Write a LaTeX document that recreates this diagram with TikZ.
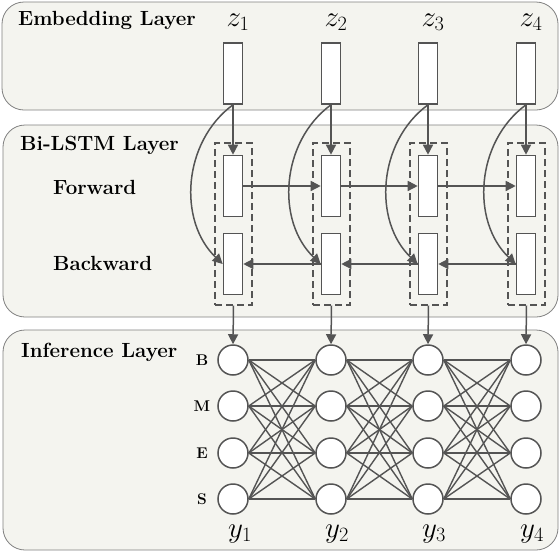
\RequirePackage{fix-cm}
\documentclass[tikz,border=0pt]{standalone}
\usepackage{amsmath}
\usetikzlibrary{arrows.meta}
\definecolor{panelfill}{RGB}{244,244,239}
\definecolor{panelline}{RGB}{128,128,128}
\definecolor{linegray}{RGB}{84,84,84}

\begin{document}
\begin{tikzpicture}[x=1pt,y=-1pt]
\tikzstyle{every node}+=[inner sep=0pt]
\tikzstyle{panel}=[draw=panelline, fill=panelfill, line width=0.8pt, rounded corners=22pt]
\tikzstyle{cell}=[draw=linegray, fill=white, line width=1.6pt, minimum width=19pt, minimum height=61pt]
\tikzstyle{frame}=[draw=linegray, line width=1.1pt, dash pattern=on 7pt off 4pt, minimum width=37pt, minimum height=162pt]
\tikzstyle{tag}=[circle, draw=linegray, fill=white, line width=1.5pt, minimum size=30pt]
\tikzstyle{arr}=[draw=linegray, line width=1.5pt, -{Triangle[length=10pt,width=10pt]}]
\tikzstyle{mesh}=[draw=linegray, line width=1.4pt]
\tikzstyle{title}=[font=\fontsize{20.5}{22}\selectfont\bfseries, anchor=west]
\tikzstyle{letter}=[font=\fontsize{15.5}{17}\selectfont\bfseries]
\tikzstyle{var}=[font=\fontsize{29}{32}\selectfont]
\useasboundingbox (0,0) rectangle (560,552);
% layers
\draw [panel] (2,2) rectangle (558,110);
\draw [panel] (3,125) rectangle (558,317);
\draw [panel] (3,330) rectangle (558,550);
\node [title] (embtitle) at (18,20) {Embedding Layer};
\node [title] (lstmtitle) at (20,145) {Bi-LSTM Layer};
\node [title] (inftitle) at (21,352) {Inference Layer};
\node [title] (fwtitle) at (53,187) {Forward};
\node [title] (bwtitle) at (53,263) {Backward};
% embedding
\node [var] (z1) at (238,22) {$z_1$};
\node [var] (z2) at (336,22) {$z_2$};
\node [var] (z3) at (433,22) {$z_3$};
\node [var] (z4) at (531,22) {$z_4$};
\node [cell] (e1) at (233,73.5) {};
\node [cell] (e2) at (331,73.5) {};
\node [cell] (e3) at (428,73.5) {};
\node [cell] (e4) at (526,73.5) {};
% bi-lstm
\node [frame] (d1) at (233.5,224) {};
\node [frame] (d2) at (331.5,224) {};
\node [frame] (d3) at (428.5,224) {};
\node [frame] (d4) at (526.5,224) {};
\node [cell] (f1) at (233,186) {};
\node [cell] (f2) at (331,186) {};
\node [cell] (f3) at (428,186) {};
\node [cell] (f4) at (526,186) {};
\node [cell] (b1) at (233,264) {};
\node [cell] (b2) at (331,264) {};
\node [cell] (b3) at (428,264) {};
\node [cell] (b4) at (526,264) {};
\draw [arr] (e1.south) -- (f1.north);
\draw [arr] (e2.south) -- (f2.north);
\draw [arr] (e3.south) -- (f3.north);
\draw [arr] (e4.south) -- (f4.north);
\draw [arr] (e1.south) to[bend right=50] (b1.west);
\draw [arr] (e2.south) to[bend right=50] (b2.west);
\draw [arr] (e3.south) to[bend right=50] (b3.west);
\draw [arr] (e4.south) to[bend right=50] (b4.west);
\draw [arr] (f1.east) -- (f2.west);
\draw [arr] (f2.east) -- (f3.west);
\draw [arr] (f3.east) -- (f4.west);
\draw [arr] (b4.west) -- (b3.east);
\draw [arr] (b3.west) -- (b2.east);
\draw [arr] (b2.west) -- (b1.east);
% inference
\node [letter] (lb) at (202,360) {B};
\node [letter] (lm) at (202,406) {M};
\node [letter] (le) at (202,453) {E};
\node [letter] (ls) at (202,499) {S};
\foreach \c/\x in {1/233,2/331,3/428,4/526}
  \foreach \r/\y in {1/360,2/406,3/453,4/499}
    \node [tag] (t\c\r) at (\x,\y) {};
\foreach \c/\n in {1/2,2/3,3/4}
  \foreach \r in {1,...,4}
    \foreach \s in {1,...,4}
      \draw [mesh] (t\c\r.east) -- (t\n\s.west);
\draw [arr] (d1.south) -- (t11.north);
\draw [arr] (d2.south) -- (t21.north);
\draw [arr] (d3.south) -- (t31.north);
\draw [arr] (d4.south) -- (t41.north);
\node [var] (y1) at (240,534) {$y_1$};
\node [var] (y2) at (337,534) {$y_2$};
\node [var] (y3) at (434,534) {$y_3$};
\node [var] (y4) at (532,534) {$y_4$};
\end{tikzpicture}
\end{document}
